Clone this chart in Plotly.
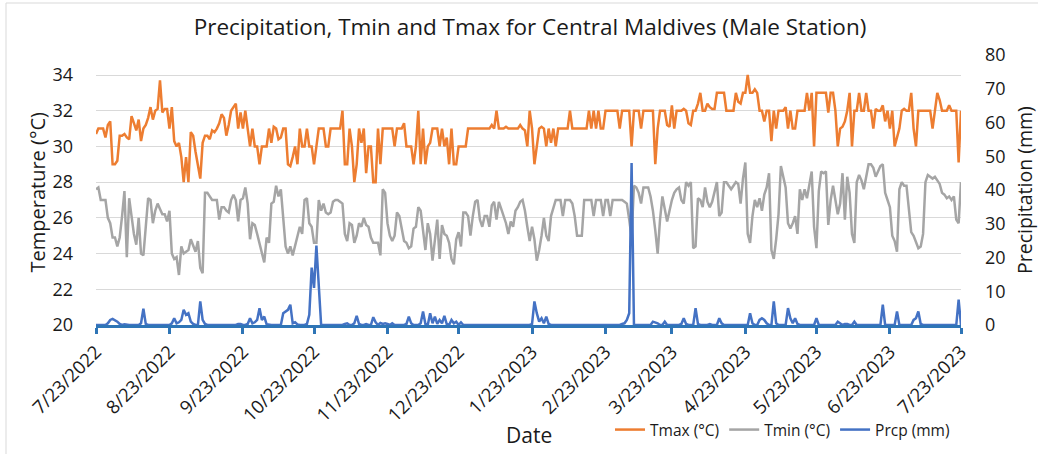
import pandas as pd
import plotly.graph_objects as go

dates = pd.date_range("2022-07-23", "2023-07-23", freq="D")

tmax = [
    30.7, 31.0, 31.0, 31.0, 30.5, 31.2, 31.4, 29.0, 29.0, 29.2,
    30.6, 30.6, 30.7, 30.5, 30.4, 31.7, 31.3, 30.9, 31.5, 30.3,
    31.0, 31.2, 31.6, 32.2, 31.5, 32.0, 32.1, 33.7, 31.9, 32.1,
    32.1, 31.0, 32.2, 30.3, 30.0, 30.2, 29.4, 28.0, 29.4, 28.0,
    30.8, 30.6, 29.7, 29.0, 28.2, 30.2, 30.6, 30.6, 30.4, 30.9,
    30.8, 31.0, 31.3, 31.8, 31.6, 30.6, 31.2, 32.0, 32.2, 32.4,
    31.0, 31.9, 31.0, 32.0, 31.0, 30.0, 31.0, 30.0, 30.0, 29.0,
    30.0, 30.0, 30.0, 31.0, 30.2, 31.1, 31.0, 30.4, 30.5, 31.0,
    31.0, 29.0, 28.9, 29.4, 30.0, 29.0, 31.0, 30.0, 30.0, 31.0,
    30.0, 30.0, 29.0, 30.0, 31.0, 31.0, 31.0, 30.0, 30.0, 31.0,
    31.0, 31.0, 31.0, 31.0, 32.0, 29.0, 29.0, 31.0, 30.0, 28.0,
    29.0, 31.0, 30.2, 31.0, 28.5, 30.0, 30.0, 28.0, 28.0, 31.0,
    29.0, 31.0, 31.0, 31.0, 31.0, 31.0, 30.0, 31.0, 31.0, 31.0,
    31.3, 30.0, 30.0, 30.0, 29.0, 30.0, 32.0, 29.0, 31.0, 29.0,
    30.0, 30.2, 31.0, 31.0, 31.0, 30.0, 31.0, 30.0, 30.5, 29.0,
    31.0, 29.0, 29.0, 30.0, 30.0, 30.0, 30.0, 31.0, 31.0, 31.0,
    31.0, 31.0, 31.0, 31.0, 31.0, 31.0, 31.0, 31.2, 31.0, 32.0,
    31.0, 31.0, 31.0, 31.1, 31.0, 31.0, 31.0, 31.0, 31.0, 31.2,
    31.0, 30.9, 30.0, 32.0, 31.0, 29.0, 30.0, 31.0, 31.1, 31.0,
    30.0, 31.0, 30.2, 31.0, 30.0, 31.0, 31.0, 31.0, 31.0, 31.0,
    32.0, 31.0, 31.0, 31.0, 31.0, 31.0, 31.0, 31.0, 32.0, 31.0,
    32.0, 31.0, 32.0, 31.0, 31.0, 32.0, 32.0, 32.0, 32.0, 32.0,
    32.0, 31.0, 32.0, 32.0, 32.0, 32.0, 30.0, 32.0, 32.0, 32.0,
    31.0, 32.0, 32.0, 32.0, 32.0, 32.0, 29.0, 31.0, 32.0, 32.0,
    32.0, 31.2, 31.1, 32.3, 31.0, 32.0, 32.0, 32.0, 32.1, 32.0,
    31.3, 31.2, 32.0, 32.0, 32.4, 33.0, 32.0, 32.0, 32.4, 32.2,
    32.1, 32.1, 33.0, 33.0, 33.0, 33.0, 32.0, 32.0, 32.0, 32.0,
    33.0, 32.5, 32.4, 33.0, 33.0, 34.0, 33.0, 33.0, 33.2, 33.0,
    32.0, 32.0, 31.4, 32.0, 32.0, 30.3, 32.0, 31.0, 32.0, 32.0,
    32.0, 32.2, 31.0, 32.0, 31.0, 31.0, 32.0, 32.0, 32.0, 32.0,
    33.0, 32.0, 33.0, 30.0, 33.0, 33.0, 33.0, 33.0, 33.0, 31.9,
    33.0, 33.0, 32.0, 30.0, 31.0, 31.1, 31.4, 32.0, 33.0, 30.0,
    32.0, 32.0, 33.0, 32.0, 32.0, 33.0, 32.0, 32.0, 31.0, 32.1,
    32.0, 32.0, 32.3, 31.4, 32.0, 31.0, 32.0, 30.0, 30.5, 31.0,
    32.0, 32.1, 32.0, 32.0, 33.0, 31.0, 30.0, 32.0, 32.0, 32.0,
    32.0, 32.0, 32.0, 31.0, 32.0, 33.0, 32.6, 32.0, 32.0, 32.0,
    32.3, 32.0, 32.0, 32.0, 29.1, 32.0,
]

tmin = [
    27.6, 27.7, 27.0, 27.0, 27.0, 26.0, 25.7, 24.9, 24.9, 24.4,
    24.9, 26.1, 27.5, 23.8, 27.1, 26.1, 25.1, 24.5, 26.0, 24.0,
    23.9, 25.5, 27.1, 27.0, 25.7, 26.4, 26.8, 26.5, 26.2, 26.2,
    25.8, 26.4, 24.0, 23.7, 23.8, 22.8, 24.4, 24.0, 24.1, 24.2,
    24.8, 24.5, 24.1, 24.7, 23.2, 22.9, 27.4, 27.4, 27.2, 27.0,
    27.0, 27.0, 25.9, 26.6, 26.6, 26.4, 26.3, 27.0, 27.3, 27.0,
    25.8, 27.0, 27.1, 27.7, 26.8, 24.8, 25.7, 25.6, 25.1, 24.6,
    24.0, 23.5, 24.9, 24.6, 26.8, 26.9, 27.8, 27.2, 27.6, 25.7,
    24.4, 24.0, 24.4, 23.9, 24.4, 25.0, 25.5, 25.1, 27.0, 27.1,
    25.7, 25.5, 24.6, 24.6, 27.0, 26.4, 26.8, 26.3, 26.2, 26.3,
    26.9, 27.0, 27.0, 26.9, 26.8, 25.1, 24.7, 25.7, 25.6, 24.6,
    25.0, 25.7, 25.5, 26.0, 25.6, 25.5, 24.9, 24.6, 24.6, 24.6,
    23.9, 27.6, 27.4, 25.7, 25.0, 24.7, 25.0, 26.3, 26.1, 25.4,
    24.7, 24.6, 24.3, 24.4, 25.4, 25.5, 26.6, 26.4, 25.1, 24.2,
    25.7, 25.1, 23.6, 24.8, 25.9, 23.7, 25.6, 25.1, 25.0, 24.6,
    23.7, 23.4, 24.8, 25.2, 24.4, 26.3, 26.3, 26.1, 25.0, 26.1,
    26.9, 27.0, 25.9, 25.5, 26.1, 26.1, 25.5, 26.7, 26.9, 25.9,
    26.9, 26.5, 26.1, 25.7, 25.1, 25.8, 25.5, 26.4, 26.6, 26.9,
    27.0, 26.4, 25.5, 24.7, 25.5, 24.8, 23.6, 24.2, 25.0, 26.0,
    25.0, 24.7, 26.1, 26.6, 27.0, 27.0, 27.0, 26.1, 27.0, 27.0,
    27.0, 26.8, 26.1, 25.0, 25.0, 25.0, 27.0, 27.0, 27.0, 27.0,
    26.1, 27.0, 27.0, 27.0, 26.1, 27.0, 27.0, 26.1, 27.0, 27.0,
    27.0, 27.0, 27.0, 26.9, 26.8, 25.9, 24.9, 27.8, 27.7, 27.4,
    26.8, 27.7, 27.7, 27.7, 27.2, 26.4, 25.3, 24.0, 25.9, 27.2,
    26.5, 25.8, 26.4, 27.0, 27.4, 27.6, 27.7, 27.0, 26.8, 28.0,
    27.8, 28.0, 24.3, 24.4, 27.1, 27.0, 26.6, 27.7, 26.9, 26.6,
    26.9, 27.5, 28.0, 26.1, 26.3, 28.0, 28.0, 27.8, 27.6, 27.8,
    28.0, 27.9, 26.8, 28.2, 29.1, 25.1, 24.6, 26.1, 27.0, 26.6,
    27.1, 26.4, 27.3, 27.7, 28.5, 24.2, 23.7, 24.8, 26.2, 28.9,
    28.2, 27.7, 25.7, 25.4, 25.7, 26.1, 25.1, 27.6, 27.0, 27.6,
    27.1, 27.9, 28.6, 25.5, 24.3, 27.5, 28.6, 28.5, 28.6, 25.6,
    27.0, 27.8, 27.0, 26.2, 26.8, 28.5, 25.9, 28.3, 27.4, 25.1,
    24.6, 28.0, 28.4, 28.1, 27.6, 28.4, 29.0, 29.0, 28.8, 28.3,
    28.6, 28.9, 29.0, 27.4, 27.0, 26.6, 25.0, 24.7, 24.1, 27.6,
    28.0, 27.8, 27.8, 26.4, 25.2, 25.0, 24.7, 24.3, 24.4, 25.1,
    28.0, 28.4, 28.3, 28.2, 28.3, 28.1, 27.9, 27.4, 27.3, 27.1,
    27.2, 27.0, 27.2, 25.9, 25.7, 28.0,
]

prcp = [
    0, 0, 0, 0, 0, 0.5, 1.5, 1.8, 1.5, 1.0,
    0.3, 0, 0.2, 0, 0, 0, 0, 0, 0, 0.5,
    4.8, 0.3, 0, 0, 0, 0, 0, 0, 0.2, 0,
    0, 0, 0.5, 2.0, 0.5, 0.8, 1.5, 4.5, 3.0, 3.5,
    1.0, 0.3, 0, 0, 7.0, 1.5, 0.3, 0, 0, 0,
    0, 0, 0.2, 0, 0, 0, 0, 0, 0, 0,
    0.3, 0.3, 0, 0, 0.3, 2.0, 0.5, 0.8, 1.5, 5.0,
    1.5, 2.5, 0.2, 0, 0, 0, 0, 0, 0, 3.5,
    4.0, 4.5, 6.0, 0.5, 0.8, 0.2, 0, 0, 0, 0.3,
    3.0, 17.0, 11.0, 23.5, 11.0, 0, 0, 0, 0, 0,
    0, 0, 0, 0, 0, 0.3, 0.5, 0, 0, 0.5,
    2.7, 0.3, 0, 0, 0.3, 0, 0, 2.3, 0.8, 0,
    0.6, 0.3, 0.5, 0.3, 0, 0.5, 0, 0, 0, 0,
    0, 0.3, 2.5, 0.5, 0, 0, 0, 0.5, 4.0, 0.3,
    0, 3.5, 0.5, 2.5, 0.3, 1.5, 0.5, 2.7, 0.3, 0,
    1.5, 0.5, 1.0, 0, 0.8, 0, 0, 0, 0, 0,
    0, 0, 0, 0, 0, 0, 0, 0, 0, 0,
    0, 0, 0, 0, 0, 0, 0, 0, 0, 0,
    0, 0, 0, 0, 0.3, 7.0, 3.5, 1.0, 2.0, 0.5,
    2.5, 0.3, 0, 0, 0, 0, 0, 0, 0, 0,
    0, 0, 0, 0, 0, 0, 0, 0, 0, 0,
    0, 0, 0, 0, 0, 0, 0, 0, 0, 0,
    0, 0, 0.3, 0.5, 1.5, 3.5, 48.0, 0, 0, 0,
    0, 0, 0, 0, 0, 1.0, 0.8, 0.5, 0, 0,
    1.0, 0, 0, 0, 0, 0, 0, 0.3, 2.0, 0.3,
    0, 0, 0, 5.0, 0.3, 0, 0, 0, 0, 0.3,
    0, 0, 0, 2.0, 0.5, 0, 0, 0, 0, 0,
    0, 0, 0, 0, 0, 0, 3.5, 0.5, 0, 0,
    1.5, 2.0, 1.5, 0.5, 0, 0, 7.0, 0.5, 0, 0,
    0, 0, 5.0, 2.0, 0.5, 2.0, 0.3, 0, 0, 0,
    0, 0, 0, 0, 2.0, 0, 0, 0, 0, 0,
    0, 0, 0, 1.0, 0.5, 0, 0.3, 0.3, 0, 0,
    1.0, 0, 0, 0, 0, 0, 0, 0, 0, 0,
    0, 0, 6.0, 0, 0, 0, 0, 0, 4.0, 0,
    0, 0, 0, 0, 0, 1.5, 2.0, 4.0, 0.3, 0,
    0, 0, 0, 0, 0, 0, 0, 0, 0, 0,
    0, 0, 0, 0, 7.5, 0,
]

tick_dates = ["2022-07-23", "2022-08-23", "2022-09-23", "2022-10-23", "2022-11-23",
              "2022-12-23", "2023-01-23", "2023-02-23", "2023-03-23", "2023-04-23",
              "2023-05-23", "2023-06-23", "2023-07-23"]
tick_labels = ["7/23/2022", "8/23/2022", "9/23/2022", "10/23/2022", "11/23/2022",
               "12/23/2022", "1/23/2023", "2/23/2023", "3/23/2023", "4/23/2023",
               "5/23/2023", "6/23/2023", "7/23/2023"]
temp_ticks = [20, 22, 24, 26, 28, 30, 32, 34]
prcp_ticks = [0, 10, 20, 30, 40, 50, 60, 70, 80]

FONT = "Open Sans"
TXT = "#1a1a1a"

W, H = 1038, 454
L, R, T, B = 96, 77, 55, 129
PW, PH = W - L - R, H - T - B


def px_x(x):
    return (x - L) / PW


def px_y(y):
    return (H - B - y) / PH


fig = go.Figure()
fig.add_trace(go.Scatter(x=dates, y=tmax, name="Tmax (°C)", mode="lines",
                         line=dict(color="#ED7D31", width=2.5)))
fig.add_trace(go.Scatter(x=dates, y=tmin, name="Tmin (°C)", mode="lines",
                         line=dict(color="#A5A5A5", width=2.5)))
fig.add_trace(go.Scatter(x=dates, y=prcp, name="Prcp (mm)", mode="lines", yaxis="y2",
                         line=dict(color="#4472C4", width=2.5)))

fig.update_layout(
    width=W, height=H,
    margin=dict(l=L, r=R, t=T, b=B, autoexpand=False),
    paper_bgcolor="white", plot_bgcolor="white",
    font=dict(family=FONT, color=TXT),
    title=dict(text="Precipitation, Tmin and Tmax for Central Maldives (Male Station)",
               x=px_x(530), xanchor="center", xref="paper", y=1 - 27 / H, yanchor="middle",
               font=dict(size=22.5, family=FONT, color=TXT)),
    xaxis=dict(
        automargin=False,
        range=[dates[0], dates[-1]],
        tickvals=tick_dates, ticktext=tick_labels, tickangle=-45,
        tickfont=dict(size=18.5),
        ticks="outside", ticklen=6, tickwidth=2.5, tickcolor="#2E75B6",
        showline=True, linecolor="#2E75B6", linewidth=2.5,
        showgrid=False, zeroline=False,
    ),
    yaxis=dict(
        automargin=False,
        range=[20, 35.12], tickvals=temp_ticks,
        tickfont=dict(size=18), ticklabelstandoff=22,
        showgrid=True, gridcolor="#D9D9D9", gridwidth=1, zeroline=False,
        showline=False, ticks="",
    ),
    yaxis2=dict(
        automargin=False,
        range=[0, 80], tickvals=prcp_ticks, overlaying="y", side="right",
        tickfont=dict(size=18), ticklabelstandoff=23,
        showgrid=False, zeroline=False, showline=False, ticks="",
    ),
    legend=dict(orientation="h", x=px_x(610), xanchor="left", y=px_y(430), yanchor="middle",
                font=dict(size=15.5), bgcolor="rgba(0,0,0,0)"),
    showlegend=True,
)

fig.add_annotation(text="Temperature (°C)", xref="paper", yref="paper",
                   x=px_x(36.5), y=px_y(192), textangle=-90, showarrow=False,
                   xanchor="center", yanchor="middle", font=dict(size=20, color=TXT))
fig.add_annotation(text="Precipitation (mm)", xref="paper", yref="paper",
                   x=px_x(1024), y=px_y(190), textangle=-90, showarrow=False,
                   xanchor="center", yanchor="middle", font=dict(size=19.5, color=TXT))
fig.add_annotation(text="Date", xref="paper", yref="paper",
                   x=px_x(529), y=px_y(435), showarrow=False,
                   xanchor="center", yanchor="middle", font=dict(size=21, color=TXT))

fig.add_shape(type="rect", xref="paper", yref="paper",
              x0=px_x(6), x1=px_x(1050), y0=px_y(470), y1=px_y(3),
              line=dict(color="#D9D9D9", width=1), layer="below")

fig.write_html("out.html", config={"displayModeBar": False},
               post_script="document.body.style.margin='0';document.body.style.padding='0';")
